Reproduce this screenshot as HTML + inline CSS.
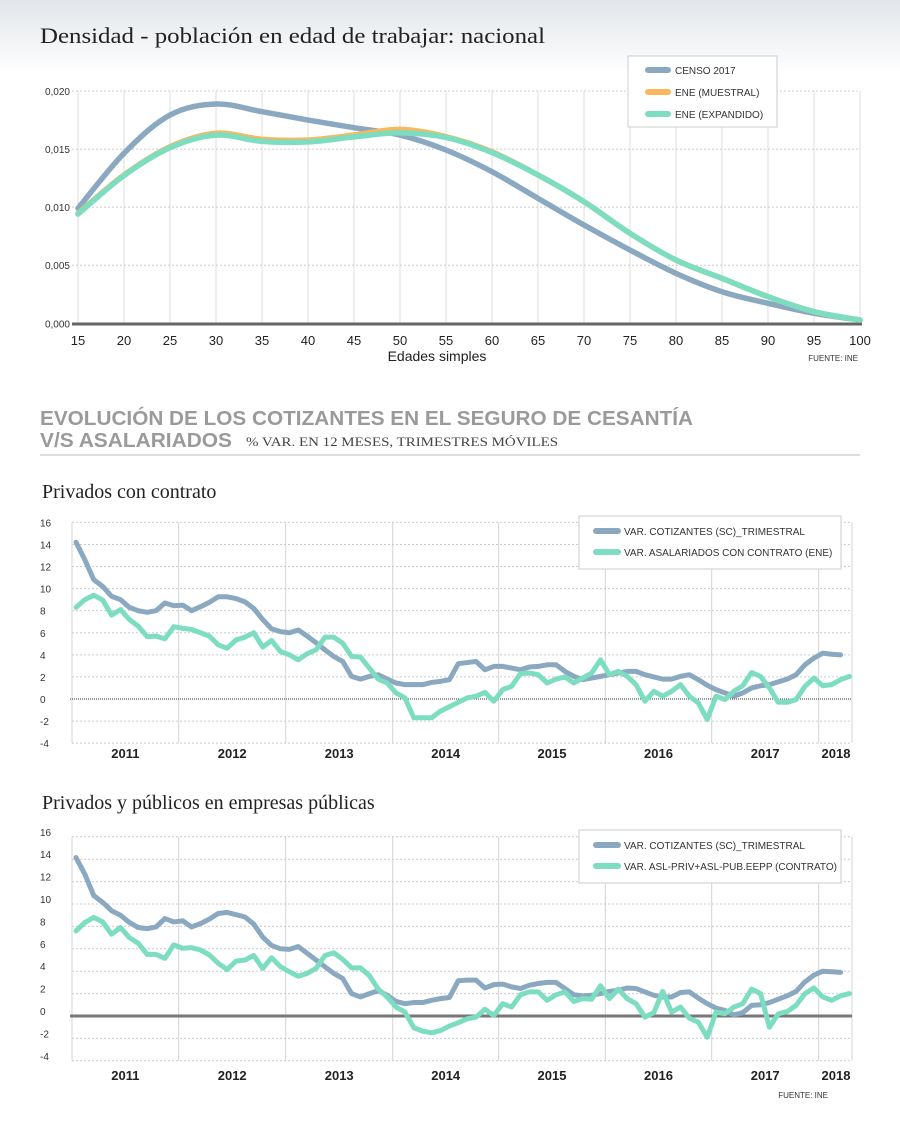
<!DOCTYPE html>
<html><head><meta charset="utf-8"><style>
body{margin:0;width:900px;height:1128px;background:#fff;overflow:hidden;font-family:"Liberation Sans",sans-serif}
svg{position:absolute;left:0;top:0}
</style></head><body>
<svg id="s" width="900" height="1128" viewBox="0 0 900 1128">
<defs><linearGradient id="hg" x1="0" y1="0" x2="0" y2="1"><stop offset="0" stop-color="#e2e6ea"/><stop offset="1" stop-color="#ffffff"/></linearGradient></defs>
<rect x="0" y="0" width="900" height="75" fill="url(#hg)"/>
<text x="40" y="43" font-family="Liberation Serif,serif" font-size="22" fill="#222" textLength="505" lengthAdjust="spacingAndGlyphs">Densidad - población en edad de trabajar: nacional</text>
<g id="c1"></g>
<text x="437" y="361" text-anchor="middle" font-size="14" fill="#222">Edades simples</text>
<text x="858" y="361" text-anchor="end" font-size="8" fill="#333">FUENTE: INE</text>
<g id="c1legend">
<rect x="628" y="56" width="149" height="71" fill="#fff" stroke="#ccc"/>
<line x1="648" y1="70" x2="668" y2="70" stroke="#8BA8C1" stroke-width="6" stroke-linecap="round"/>
<text x="675" y="74" font-size="10" fill="#333">CENSO 2017</text>
<line x1="648" y1="92" x2="668" y2="92" stroke="#F9B75E" stroke-width="6" stroke-linecap="round"/>
<text x="675" y="96" font-size="10" fill="#333">ENE (MUESTRAL)</text>
<line x1="648" y1="114" x2="668" y2="114" stroke="#7DDDC0" stroke-width="6" stroke-linecap="round"/>
<text x="675" y="118" font-size="10" fill="#333">ENE (EXPANDIDO)</text>
</g>
<text x="40" y="425" font-size="20" font-weight="bold" fill="#9a9a9a" textLength="653" lengthAdjust="spacingAndGlyphs">EVOLUCIÓN DE LOS COTIZANTES EN EL SEGURO DE CESANTÍA</text>
<text x="40" y="447" font-size="20" font-weight="bold" fill="#9a9a9a" textLength="192" lengthAdjust="spacingAndGlyphs">V/S ASALARIADOS</text>
<text x="246" y="446" font-family="Liberation Serif,serif" font-size="13" fill="#444" textLength="312" lengthAdjust="spacingAndGlyphs">% VAR. EN 12 MESES, TRIMESTRES MÓVILES</text>
<line x1="40" y1="455" x2="860" y2="455" stroke="#bbb" stroke-width="1"/>
<text x="42" y="498" font-family="Liberation Serif,serif" font-size="20" fill="#222">Privados con contrato</text>
<text x="42" y="809" font-family="Liberation Serif,serif" font-size="20" fill="#222">Privados y públicos en empresas públicas</text>
<g id="c2"></g><g id="c3"></g>
<text x="828" y="1098" text-anchor="end" font-size="8" fill="#333">FUENTE: INE</text>
</svg>
<script>
const ages=[15,20,25,30,35,40,45,50,55,60,65,70,75,80,85,90,95,100];
const censo=[0.0099,0.01464,0.01793,0.01888,0.01822,0.0175,0.01684,0.01621,0.01492,0.01305,0.01076,0.00846,0.00631,0.0043,0.00272,0.00172,0.00086,0.00028];
const muestral=[0.00947,0.01277,0.0152,0.01636,0.01584,0.01578,0.01621,0.0167,0.01607,0.01477,0.01277,0.01047,0.00775,0.00545,0.00387,0.00229,0.001,0.00028];
const expandido=[0.00940,0.01272,0.01512,0.0162,0.01566,0.01562,0.01605,0.0164,0.0160,0.0147,0.01277,0.01047,0.00775,0.00545,0.00387,0.00229,0.001,0.00028];
const yTicks1=["0,000","0,005","0,010","0,015","0,020"];
const years=["2011","2012","2013","2014","2015","2016","2017","2018"];
const yTicks2=[16,14,12,10,8,6,4,2,0,-2,-4];
const cotiz2=[14.2,12.6,10.8,10.2,9.3,9.0,8.3,8.0,7.85,8.0,8.7,8.45,8.5,8.0,8.36,8.75,9.26,9.26,9.1,8.8,8.2,7.2,6.35,6.1,6.0,6.25,5.7,5.1,4.45,3.85,3.4,2.05,1.8,2.05,2.2,1.8,1.45,1.3,1.3,1.3,1.5,1.6,1.75,3.2,3.3,3.4,2.65,2.95,2.95,2.8,2.65,2.9,2.95,3.1,3.1,2.5,2.05,1.75,1.9,2.05,2.2,2.35,2.5,2.5,2.2,2.0,1.8,1.8,2.05,2.2,1.75,1.25,0.85,0.55,0.25,0.55,1.0,1.2,1.3,1.55,1.8,2.2,3.1,3.7,4.15,4.05,4.0];
const asal2=[8.3,9.0,9.4,8.96,7.6,8.1,7.2,6.6,5.65,5.7,5.45,6.55,6.4,6.3,6.0,5.7,4.9,4.6,5.35,5.6,6.0,4.7,5.3,4.3,4.0,3.55,4.1,4.45,5.6,5.6,5.05,3.85,3.8,2.8,1.8,1.45,0.55,0.1,-1.7,-1.7,-1.7,-1.1,-0.7,-0.3,0.1,0.25,0.6,-0.2,0.85,1.15,2.3,2.35,2.2,1.45,1.8,2.0,1.45,1.9,2.35,3.55,2.2,2.5,2.05,1.3,-0.2,0.7,0.25,0.7,1.3,0.25,-0.35,-1.85,0.25,-0.05,0.7,1.2,2.4,2.05,1.0,-0.3,-0.3,-0.05,1.15,1.9,1.2,1.3,1.75,2.05];
const cotiz3=[14.15,12.65,10.75,10.15,9.4,9.0,8.35,7.9,7.8,7.95,8.7,8.4,8.5,7.95,8.25,8.65,9.15,9.25,9.05,8.85,8.2,7.05,6.3,6.0,5.95,6.2,5.6,5.0,4.4,3.8,3.35,2.0,1.7,2.0,2.25,1.85,1.3,1.1,1.2,1.2,1.4,1.55,1.65,3.15,3.2,3.2,2.5,2.8,2.85,2.6,2.45,2.75,2.9,3.0,3.0,2.45,1.9,1.8,1.85,2.0,2.2,2.3,2.5,2.45,2.15,1.85,1.7,1.7,2.1,2.15,1.6,1.1,0.7,0.5,0.1,0.3,0.95,1.0,1.2,1.5,1.8,2.2,3.05,3.65,4.0,3.95,3.9];
const asal3=[7.6,8.35,8.8,8.4,7.3,7.9,7.0,6.5,5.5,5.5,5.15,6.35,6.05,6.1,5.9,5.45,4.7,4.15,4.9,5.0,5.4,4.25,5.2,4.4,3.95,3.55,3.8,4.25,5.4,5.65,5.05,4.3,4.3,3.6,2.4,1.7,0.8,0.35,-1.05,-1.35,-1.5,-1.3,-0.9,-0.6,-0.25,-0.1,0.6,0.05,1.1,0.8,1.9,2.15,2.15,1.4,1.9,2.15,1.3,1.55,1.5,2.7,1.55,2.4,1.55,1.1,-0.1,0.3,2.2,0.35,0.8,-0.2,-0.55,-1.9,0.35,0.2,0.8,1.1,2.4,2.0,-1.0,0.2,0.4,0.95,2.0,2.5,1.7,1.4,1.8,2.0];

const NS='http://www.w3.org/2000/svg';
function mk(parent,tag,attrs){const e=document.createElementNS(NS,tag);for(const k in attrs)e.setAttribute(k,attrs[k]);parent.appendChild(e);return e;}
function smooth(pts){let d='M'+pts[0][0]+','+pts[0][1];for(let i=0;i<pts.length-1;i++){const p0=pts[i-1]||pts[i],p1=pts[i],p2=pts[i+1],p3=pts[i+2]||p2;d+=' C'+(p1[0]+(p2[0]-p0[0])/6)+','+(p1[1]+(p2[1]-p0[1])/6)+' '+(p2[0]-(p3[0]-p1[0])/6)+','+(p2[1]-(p3[1]-p1[1])/6)+' '+p2[0]+','+p2[1];}return d;}

// Chart 1
const c1=document.getElementById('c1');
const x1=a=>78+(a-15)*(782/85), y1=v=>323.3-v/0.02*232.3;
ages.forEach((a,i)=>{
  const g=mk(c1,'line',{x1:x1(a),x2:x1(a),y1:91,y2:323,stroke:'#ddd','stroke-width':1});
  
  const t=mk(c1,'text',{x:x1(a),y:345,'text-anchor':'middle','font-size':13,fill:'#222'});t.textContent=a;
  
});
yTicks1.forEach((s,i)=>{
  const v=i*0.005,y=y1(v);
  if(i>0){const g=mk(c1,'line',{x1:72,x2:860,y1:y,y2:y,stroke:'#ccc','stroke-dasharray':'2,2'});
  }
  const t=mk(c1,'text',{x:70,y:y+4,'text-anchor':'end','font-size':10,fill:'#333'});t.textContent=s;
  
});
const b1=mk(c1,'line',{x1:72,x2:862,y1:324,y2:324,stroke:'#666','stroke-width':3});

[[censo,'#8BA8C1','line-censo-2017'],[muestral,'#F9B75E','line-ene-muestral'],[expandido,'#7DDDC0','line-ene-expandido']].forEach(([arr,col,nm])=>{
  const p=mk(c1,'path',{d:smooth(arr.map((v,i)=>[x1(ages[i]),y1(v)])),fill:'none',stroke:col,'stroke-width':5.5,'stroke-linecap':'round'});
  
});

// time charts
function timeChart(id,y0,unit,s1,s2,leg2,legY,zeroStyle,yearY){
  const g=document.getElementById(id);
  const xm=i=>76+i*8.89, yv=v=>y0-v*unit;
  const grid=[72,178.7,285.7,392.7,498.7,605.3,711.7,818.7,852];
  grid.forEach(x=>{const l=mk(g,'line',{x1:x,x2:x,y1:yv(16),y2:yv(-4),stroke:'#d4d4d4','stroke-width':1});
    });
  yTicks2.forEach(v=>{
    if(v!==0){const l=mk(g,'line',{x1:72,x2:852,y1:yv(v),y2:yv(v),stroke:'#ccc','stroke-dasharray':'2,2'});
    }
    const t=mk(g,'text',{x:40,y:yv(v)+4-(id==='c3'?5:0),'font-size':10,fill:'#333'});t.textContent=v;
    
  });
  const z=mk(g,'line',Object.assign({x1:70,x2:852,y1:yv(0),y2:yv(0)},zeroStyle));
  
  years.forEach((yr,i)=>{
    const cx=i<7?(grid[i]+grid[i+1])/2:836;
    const t=mk(g,'text',{x:cx,y:yearY,'text-anchor':'middle','font-size':13,'font-weight':'bold',fill:'#222'});t.textContent=yr;
    
  });
  [[s1,'#8BA8C1','line-cotizantes'],[s2,'#7DDDC0','line-asalariados']].forEach(([arr,col,nm])=>{
    const p=mk(g,'polyline',{points:arr.map((v,i)=>xm(i)+','+yv(v)).join(' '),fill:'none',stroke:col,'stroke-width':5,'stroke-linejoin':'round','stroke-linecap':'round'});
    
  });
  const lg=mk(g,'g',{});
  
  mk(lg,'rect',{x:579,y:legY,width:262,height:53,fill:'#fff',stroke:'#ccc'});
  mk(lg,'line',{x1:596,x2:618,y1:legY+15,y2:legY+15,stroke:'#8BA8C1','stroke-width':6,'stroke-linecap':'round'});
  const a=mk(lg,'text',{x:624,y:legY+19,'font-size':10,fill:'#333'});a.textContent='VAR. COTIZANTES (SC)_TRIMESTRAL';
  mk(lg,'line',{x1:596,x2:618,y1:legY+36,y2:legY+36,stroke:'#7DDDC0','stroke-width':6,'stroke-linecap':'round'});
  const b=mk(lg,'text',{x:624,y:legY+40,'font-size':10,fill:'#333'});b.textContent=leg2;
}
timeChart('c2',699,11.04,cotiz2,asal2,'VAR. ASALARIADOS CON CONTRATO (ENE)',516,{stroke:'#333','stroke-width':1,'stroke-dasharray':'1,1'},758);
timeChart('c3',1016,11.2,cotiz3,asal3,'VAR. ASL-PRIV+ASL-PUB.EEPP (CONTRATO)',830,{stroke:'#777','stroke-width':3},1080);
</script>
</body></html>
